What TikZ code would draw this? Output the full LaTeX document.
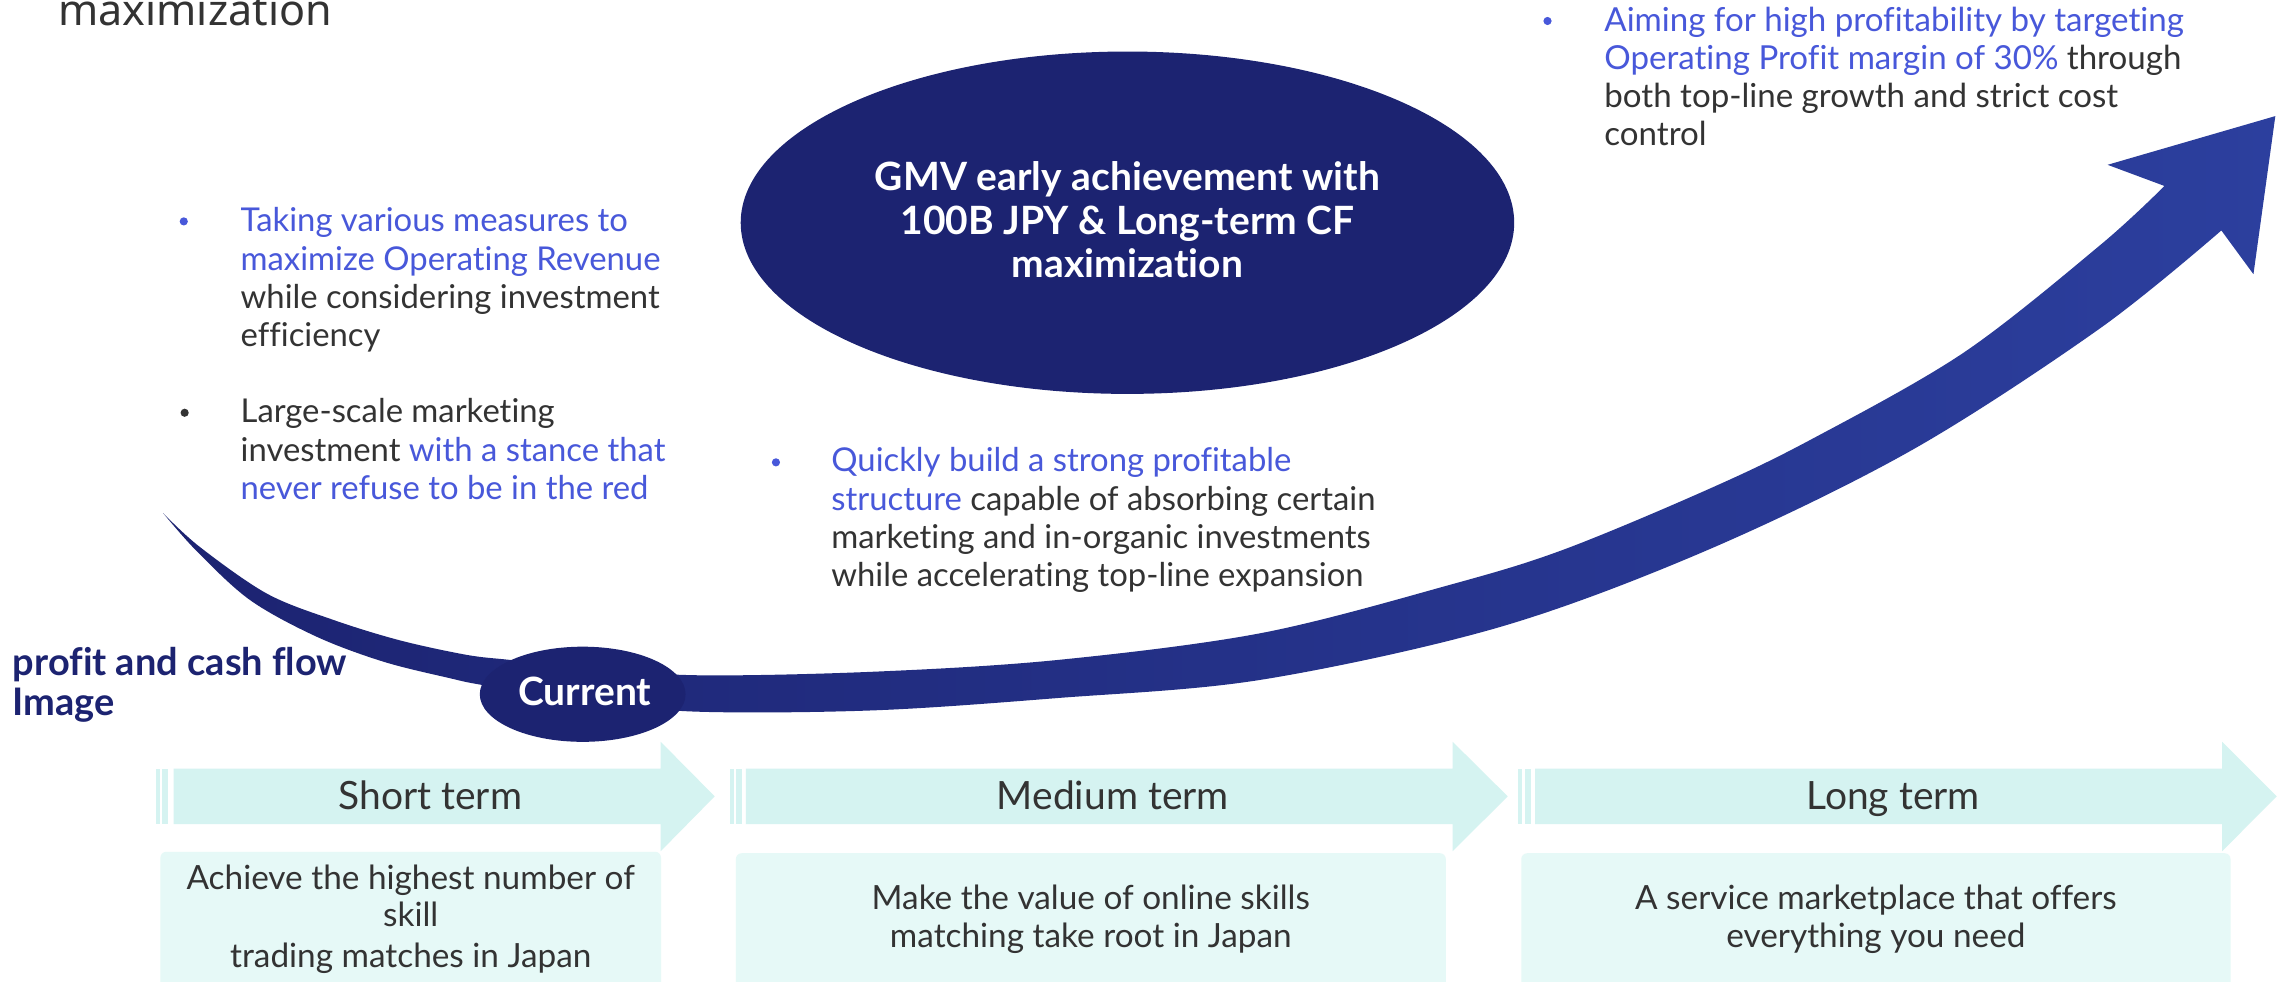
\documentclass[tikz,border=0pt]{standalone}
\usepackage{fontspec}
\setmainfont{Lato}[Ligatures=NoCommon]
\newfontfamily\titlefont{Noto Sans}
\usetikzlibrary{shapes.geometric}

\definecolor{navy}{HTML}{1C2371}
\definecolor{royal}{HTML}{2C3F9E}
\definecolor{accent}{HTML}{4858DA}
\definecolor{ink}{HTML}{333333}
\definecolor{bandfill}{HTML}{D5F3F1}
\definecolor{boxfill}{HTML}{E6F9F7}

\newcommand\setfs[2]{\fontsize{#1}{#2}\selectfont}

\begin{document}
\begin{tikzpicture}[x=0.01cm, y=-0.01cm,
  plain/.style={inner sep=0, outer sep=0},
  bullettext/.style={plain, anchor=base west, text=ink},
  dot/.style={circle, inner sep=0, minimum size=0.056cm},
  termlabel/.style={plain, anchor=base, text=ink, font=\setfs{7.6}{9}},
  goaltext/.style={plain, anchor=base, text=ink},
  goalbox/.style={plain, anchor=north west, fill=boxfill, rounded corners=0.04cm, minimum height=1.1cm},
]
\useasboundingbox (0,0) rectangle (1568,673);
\clip (0,0) rectangle (1568,673);
\fill[white] (0,0) rectangle (1568,673);

% heading fragment
\node[plain, anchor=base west, text=ink] (heading) at (40,17.8)
  {\titlefont\setfs{8.4}{10}maximization};

% growth curve (swoosh) with arrow head
\shade[left color=navy, right color=royal]
  (112,352) -- plot[smooth, tension=0.55] coordinates {
    (112,352) (135,378) (171.4,411.4) (217,436.5) (263,453.7) (308.5,465)
    (331,469.7) (400,481) (480,488) (600,487) (725,478.6) (865,466)
    (1028,430) (1171,377) (1311,308.5) (1440,225) (1523,158)}
  -- (1545,188) -- (1560,79.6) -- (1445,113)
  -- plot[smooth, tension=0.55] coordinates {
    (1484,127.5) (1440,168) (1346,242) (1241,301.7) (1170,336) (1071.6,377)
    (994,401) (865,434) (725,452.5) (600,460.5) (480,463) (400,458)
    (350,452.5) (320,449) (274,439) (228.5,425) (183,407) (137,375) (112,352)}
  -- cycle;

% goal ellipse
\node[ellipse, fill=navy, inner sep=0, minimum width=5.30cm, minimum height=2.346cm]
  (goal) at (773,152.7) {};
\node[plain, anchor=base, text=white, font=\bfseries] (goaltitle) at (773,130.7)
  {\parbox[t]{5cm}{\centering\setfs{7.6}{8.5}GMV early achievement with\\
   100B JPY \& Long-term CF\\maximization}};

% current position
\node[ellipse, fill=navy, inner sep=0, minimum width=1.41cm, minimum height=0.652cm]
  (current) at (399.5,476) {};
\node[plain, anchor=base, text=white] (currentlabel) at (401,483.4)
  {\bfseries\setfs{7.6}{9}Current};

% left caption
\node[plain, anchor=base west, text=navy] (caption) at (8.8,462.8)
  {\parbox[t]{4cm}{\raggedright\bfseries\setfs{7.4}{7.8}profit and cash flow\\Image}};

% bullet points
\node[dot, fill=accent] (d1) at (126,151.8) {};
\node[bullettext] (b1) at (165,159)
  {\parbox[t]{4cm}{\raggedright\setfs{6.4}{7.45}%
   \textcolor{accent}{Taking various measures to\\maximize Operating Revenue}\\
   while considering investment\\efficiency}};

\node[dot, fill=ink] (d2) at (126.6,283) {};
\node[bullettext] (b2) at (165,290)
  {\parbox[t]{4cm}{\raggedright\setfs{6.4}{7.45}%
   Large-scale marketing\\
   investment \textcolor{accent}{with a stance that\\never refuse to be in the red}}};

\node[dot, fill=accent] (d3) at (532,317) {};
\node[bullettext] (b3) at (570,323.5)
  {\parbox[t]{5cm}{\raggedright\setfs{6.4}{7.45}%
   \textcolor{accent}{Quickly build a strong profitable\\structure} capable of absorbing certain\\
   marketing and in-organic investments\\while accelerating top-line expansion}};

\node[dot, fill=accent] (d4) at (1061,14.4) {};
\node[bullettext] (b4) at (1100,21.5)
  {\parbox[t]{5cm}{\raggedright\setfs{6.45}{7.45}%
   \textcolor{accent}{Aiming for high profitability by targeting\\Operating Profit margin of 30\%} through\\
   both top-line growth and strict cost\\control}};

% time horizon bands
\foreach \s/\m/\h/\t in {106.7/119/453/490, 500.2/511.4/996/1033.7, 1041/1052.5/1523.5/1561}{
  \fill[bandfill] (\s,527) rectangle ++(2.8,38);
  \fill[bandfill] (\s+4.5,527) rectangle ++(4.2,38);
  \fill[bandfill] (\m,527) -- (\h,527) -- (\h,508.6) -- (\t,546)
    -- (\h,583.6) -- (\h,565) -- (\m,565) -- cycle;
}
\node[termlabel] (short) at (295,555) {Short term};
\node[termlabel] (medium) at (763,555) {Medium term};
\node[termlabel] (long) at (1298,555) {Long term};

% goal boxes
\node[goalbox, minimum width=3.43cm] (box1) at (110,584) {};
\node[goalbox, minimum width=4.865cm] (box2) at (504.5,585) {};
\node[goalbox, minimum width=4.86cm] (box3) at (1043,585) {};

\node[goaltext] (goal1) at (box1.north |- 0,609.8)
  {\parbox[t]{3.4cm}{\centering\setfs{6.5}{7.2}Achieve the highest number of\\skill\\[0.8pt]
   trading matches in Japan}};
\node[goaltext] (goal2) at (box2.north |- 0,623.5)
  {\parbox[t]{4.8cm}{\centering\setfs{6.5}{7.4}Make the value of online skills\\
   matching take root in Japan}};
\node[goaltext] (goal3) at (box3.north |- 0,623.5)
  {\parbox[t]{4.8cm}{\centering\setfs{6.5}{7.4}A service marketplace that offers\\
   everything you need}};
\end{tikzpicture}
\end{document}
